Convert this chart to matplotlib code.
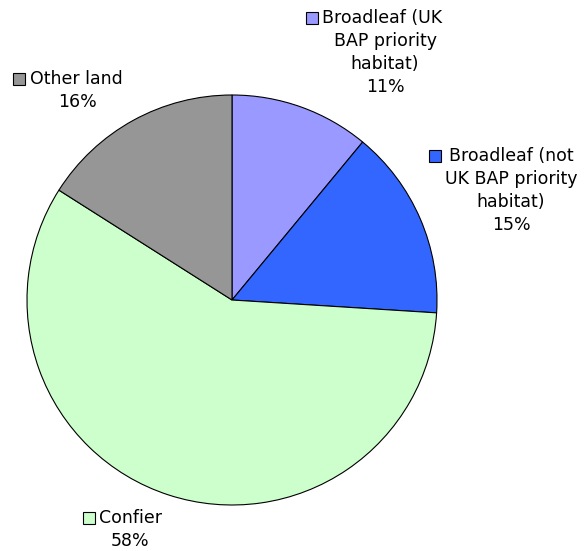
import matplotlib
matplotlib.use("Agg")
import matplotlib.pyplot as plt

categories = [
    "Broadleaf (UK BAP priority habitat)",
    "Broadleaf (not UK BAP priority habitat)",
    "Confier",
    "Other land",
]
shares = [11, 15, 58, 16]
colors = ["#9999FF", "#3366FF", "#CCFFCC", "#969696"]

# label text split into lines as laid out on the chart
label_lines = [
    ["Broadleaf (UK", "BAP priority", "habitat)"],
    ["Broadleaf (not", "UK BAP priority", "habitat)"],
    ["Confier"],
    ["Other land"],
]

W, H = 584, 551
fig = plt.figure(figsize=(W / 100, H / 100), dpi=100)
ax = fig.add_axes([0, 0, 1, 1])
ax.set_xlim(0, W)
ax.set_ylim(H, 0)
ax.axis("off")

# pie drawn on a separate axes so angles run the usual way
pax = fig.add_axes([0, 0, 1, 1])
pax.set_xlim(0, W)
pax.set_ylim(0, H)
pax.set_aspect("equal")
pax.axis("off")
pax.pie(shares, colors=colors, startangle=90, counterclock=False,
        center=(232, H - 300), radius=205,
        wedgeprops=dict(edgecolor="black", linewidth=0.8))
pax.set_xlim(0, W)
pax.set_ylim(0, H)

# label placement: square key x, first-line left x, centre x of other lines, first line y
layout = [
    (312, 322, 385, 18),
    (435, 449, 511, 156),
    (89, 99, 130, 518),
    (19, 30, 77, 79),
]
step = 23
fs = 12.5
for (sq_x, tx, cx, y0), lines, c, v in zip(layout, label_lines, colors, shares):
    ax.plot(sq_x, y0, marker="s", markersize=8, markerfacecolor=c,
            markeredgecolor="black", markeredgewidth=0.8)
    ax.text(tx, y0, lines[0], ha="left", va="center", fontsize=fs,
            family="DejaVu Sans")
    rest = lines[1:] + [f"{v}%"]
    for i, s in enumerate(rest):
        ax.text(cx, y0 + step * (i + 1), s, ha="center", va="center",
                fontsize=fs, family="DejaVu Sans")

fig.savefig("out.png", dpi=100)
